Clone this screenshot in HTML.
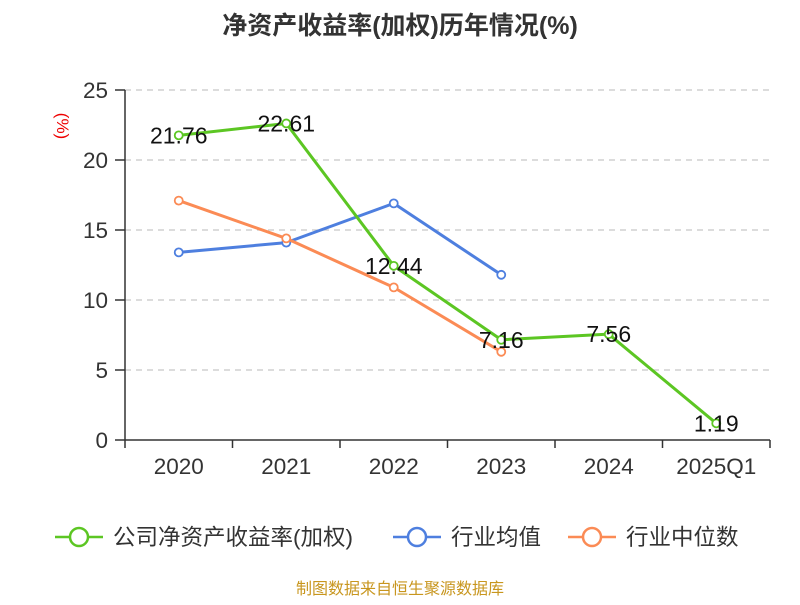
<!DOCTYPE html>
<html><head><meta charset="utf-8"><style>
body{margin:0;background:#fff;}
svg text{font-family:"Liberation Sans","Noto Sans CJK SC",sans-serif;}
</style></head><body>
<svg id="c" width="800" height="600" xmlns="http://www.w3.org/2000/svg">
<text x="400" y="34" text-anchor="middle" font-size="25" font-weight="bold" fill="#333">净资产收益率(加权)历年情况(%)</text>
<text x="0" y="0" transform="translate(57,126) rotate(90)" text-anchor="middle" font-size="17" fill="#e00">(%)</text>
<g id="grid"></g><g id="axes"></g><g id="series"></g>
<g>
<g><line x1="55" y1="537" x2="103" y2="537" stroke="#5cc623" stroke-width="2.5"/><circle cx="79" cy="537" r="9" fill="#fff" stroke="#5cc623" stroke-width="2.5"/><text x="113" y="545" font-size="22.5" fill="#333">公司净资产收益率(加权)</text></g>
<g><line x1="393" y1="537" x2="441" y2="537" stroke="#4e7fdf" stroke-width="2.5"/><circle cx="417" cy="537" r="9" fill="#fff" stroke="#4e7fdf" stroke-width="2.5"/><text x="451" y="545" font-size="22.5" fill="#333">行业均值</text></g>
<g><line x1="568" y1="537" x2="616" y2="537" stroke="#fb8b55" stroke-width="2.5"/><circle cx="592" cy="537" r="9" fill="#fff" stroke="#fb8b55" stroke-width="2.5"/><text x="626" y="545" font-size="22.5" fill="#333">行业中位数</text></g>
</g>
<text x="400" y="594" text-anchor="middle" font-size="16" fill="#c8961e">制图数据来自恒生聚源数据库</text>
</svg>
<script>
const categories=["2020","2021","2022","2023","2024","2025Q1"];
const yTicks=[0,5,10,15,20,25];
const companyValues=[21.76,22.61,12.44,7.16,7.56,1.19];
const industryAvg=[13.4,14.1,16.9,11.8,null,null];
const industryMedian=[17.1,14.4,10.9,6.3,null,null];
const NS="http://www.w3.org/2000/svg";
const x0=125,x1=770,yB=440,yT=90,yMax=25;
const bw=(x1-x0)/categories.length;
const X=i=>x0+bw*(i+0.5);
const Y=v=>yB-(v/yMax)*(yB-yT);
function mk(tag,attrs,parent){const e=document.createElementNS(NS,tag);for(const k in attrs)e.setAttribute(k,attrs[k]);parent.appendChild(e);return e;}
const grid=document.getElementById('grid'),axes=document.getElementById('axes'),ser=document.getElementById('series');
yTicks.forEach(t=>{
 if(t>0){const g=mk('line',{x1:x0,x2:x1,y1:Y(t),y2:Y(t),stroke:'#c8c8c8','stroke-dasharray':'6,5','stroke-width':1.2},grid);
 
 }
 const tk=mk('line',{x1:x0-10,x2:x0,y1:Y(t),y2:Y(t),stroke:'#333','stroke-width':1.5},axes);
 
 
 const tl=mk('text',{x:x0-17,y:Y(t)+8,'text-anchor':'end','font-size':22.5,fill:'#333'},axes);tl.textContent=t;
 
 
});
const ya=mk('line',{x1:x0,x2:x0,y1:yT,y2:yB,stroke:'#333','stroke-width':1.5},axes);


const xa=mk('line',{x1:x0,x2:x1,y1:yB,y2:yB,stroke:'#333','stroke-width':1.5},axes);


for(let i=0;i<=categories.length;i++){const t=mk('line',{x1:x0+bw*i,x2:x0+bw*i,y1:yB,y2:yB+8,stroke:'#333','stroke-width':1.5},axes);
 
 }
categories.forEach((c,i)=>{const t=mk('text',{x:X(i),y:474,'text-anchor':'middle','font-size':22.5,fill:'#333'},axes);t.textContent=c;
 
 });
function series(vals,color,name,labels){
 const pts=vals.map((v,i)=>v==null?null:[X(i),Y(v)]).filter(p=>p);
 const pl=mk('polyline',{points:pts.map(p=>p.join(',')).join(' '),fill:'none',stroke:color,'stroke-width':3,'stroke-linejoin':'round'},ser);
 
 
 vals.forEach((v,i)=>{if(v==null)return;
  const c=mk('circle',{cx:X(i),cy:Y(v),r:4,fill:'#fff',stroke:color,'stroke-width':1.8},ser);
  
  
  if(labels){const t=mk('text',{x:X(i),y:Y(v)+8,'text-anchor':'middle','font-size':23,fill:'#111'},ser);t.textContent=v.toFixed(2);
   
   }
 });
}
series(industryAvg,'#4e7fdf','industry-avg',false);
series(industryMedian,'#fb8b55','industry-median',false);
series(companyValues,'#5cc623','company-roe',true);
</script>
</body></html>
